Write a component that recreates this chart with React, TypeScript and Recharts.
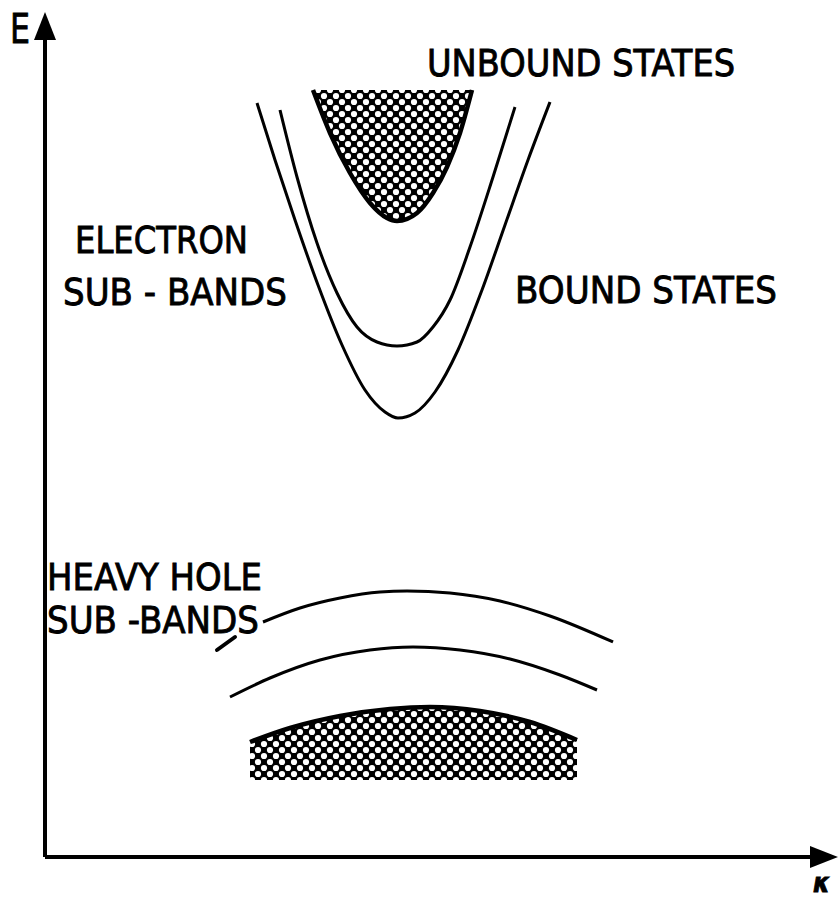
import { Area, ComposedChart, Line, ReferenceDot, ReferenceLine, XAxis, YAxis } from "recharts";

// E(k); k and E in arbitrary plot units
const electronSubBand1 = [
  { k: 212, E: 754 }, { k: 230, E: 697 }, { k: 250, E: 637 }, { k: 273, E: 572 },
  { k: 297, E: 512 }, { k: 320, E: 467 }, { k: 340, E: 445 }, { k: 353, E: 439 },
  { k: 370, E: 444 }, { k: 390, E: 465 }, { k: 413, E: 507 }, { k: 437, E: 567 },
  { k: 460, E: 632 }, { k: 483, E: 697 }, { k: 505, E: 755 },
];

const electronSubBand2 = [
  { k: 235, E: 747 }, { k: 252, E: 680 }, { k: 272, E: 614 }, { k: 292, E: 564 },
  { k: 312, E: 530 }, { k: 332, E: 515 }, { k: 352, E: 511 }, { k: 372, E: 515 },
  { k: 388, E: 530 }, { k: 405, E: 557 }, { k: 425, E: 610 }, { k: 448, E: 680 },
  { k: 470, E: 750 },
];

// continuum edge of the unbound states, filled up to the top of the drawing
const unboundTop = 767;
const unboundEdge = [
  { k: 268, E: 767 }, { k: 285, E: 724 }, { k: 305, E: 684 }, { k: 325, E: 654 },
  { k: 342, E: 639 }, { k: 352, E: 636 }, { k: 372, E: 644 }, { k: 388, E: 664 },
  { k: 402, E: 690 }, { k: 415, E: 724 }, { k: 427, E: 767 },
];

const holeSubBand1 = [
  { k: 218, E: 235 }, { k: 255, E: 249 }, { k: 295, E: 259 }, { k: 335, E: 265 },
  { k: 362, E: 266 }, { k: 405, E: 264 }, { k: 455, E: 256 }, { k: 505, E: 241 },
  { k: 568, E: 215 },
];

const holeSubBand2 = [
  { k: 185, E: 160 }, { k: 225, E: 179 }, { k: 275, E: 197 }, { k: 325, E: 207 },
  { k: 368, E: 210 }, { k: 415, E: 207 }, { k: 465, E: 198 }, { k: 515, E: 182 },
  { k: 552, E: 167 },
];

// valence continuum, hatched down to a flat floor
const holeFloor = 77;
const holeContinuumEdge = [
  { k: 205, E: 115 }, { k: 245, E: 129 }, { k: 295, E: 141 }, { k: 345, E: 148 },
  { k: 385, E: 150 }, { k: 435, E: 146 }, { k: 485, E: 135 }, { k: 532, E: 117 },
];

const unboundFill = unboundEdge.map((p) => ({ k: p.k, E: [p.E, unboundTop] }));
const holeFill = holeContinuumEdge.map((p) => ({ k: p.k, E: [holeFloor, p.E] }));

const FONT = "'DejaVu Sans', 'Liberation Sans', sans-serif";

const caption =
  (text: string, width: number, size = 37, extra: Record<string, string | number> = {}) =>
  (p: any) => (
    <text
      x={p.cx}
      y={p.cy}
      fontSize={size}
      fontFamily={FONT}
      textLength={width}
      lengthAdjust='spacingAndGlyphs'
      fill='#000'
      stroke='#000'
      strokeWidth={0.9}
      {...extra}
    >
      {text}
    </text>
  );

const curve = { stroke: "#000", strokeWidth: 3, dot: false, isAnimationActive: false, type: "monotone" as const };

export default function App() {
  return (
    <div style={{ position: "absolute", left: 0, top: 0, width: 838, height: 898, background: "#fff" }}>
      <ComposedChart width={838} height={898} margin={{ top: 40, right: 28, bottom: 0, left: 0 }}>
        <defs>
          <pattern id='xhatch' width='12' height='12' patternUnits='userSpaceOnUse'>
            <rect width='12' height='12' fill='#000' />
            <circle cx='0' cy='0' r='3.1' fill='#fff' />
            <circle cx='12' cy='0' r='3.1' fill='#fff' />
            <circle cx='0' cy='12' r='3.1' fill='#fff' />
            <circle cx='12' cy='12' r='3.1' fill='#fff' />
            <circle cx='6' cy='6' r='3.1' fill='#fff' />
          </pattern>
          <marker
            id='arrowHead'
            viewBox='0 0 28 22'
            refX='0'
            refY='11'
            markerWidth='28'
            markerHeight='22'
            markerUnits='userSpaceOnUse'
            orient='auto-start-reverse'
          >
            <path d='M0,0 L28,11 L0,22 Z' fill='#000' />
          </marker>
        </defs>
        <XAxis
          type='number'
          dataKey='k'
          domain={[0, 765]}
          allowDataOverflow
          tick={false}
          tickLine={false}
          height={41}
          axisLine={{ stroke: "#000", strokeWidth: 4, markerEnd: "url(#arrowHead)" }}
        />
        <YAxis
          type='number'
          domain={[0, 817]}
          allowDataOverflow
          tick={false}
          tickLine={false}
          width={45}
          axisLine={{ stroke: "#000", strokeWidth: 4, markerStart: "url(#arrowHead)" }}
        />

        <Area data={unboundFill} dataKey='E' type='monotone' fill='url(#xhatch)' fillOpacity={1} stroke='none' isAnimationActive={false} />
        <Area data={holeFill} dataKey='E' type='monotone' fill='url(#xhatch)' fillOpacity={1} stroke='none' isAnimationActive={false} />

        <Line data={unboundEdge} dataKey='E' {...curve} strokeWidth={4.5} />
        <Line data={electronSubBand1} dataKey='E' {...curve} />
        <Line data={electronSubBand2} dataKey='E' {...curve} />
        <Line data={holeSubBand1} dataKey='E' {...curve} />
        <Line data={holeSubBand2} dataKey='E' {...curve} />
        <Line data={holeContinuumEdge} dataKey='E' {...curve} strokeWidth={4.5} />

        <ReferenceLine
          segment={[{ x: 172, y: 207 }, { x: 190, y: 220 }]}
          stroke='#000'
          strokeWidth={4}
          strokeLinecap='round'
          ifOverflow='visible'
        />

        <ReferenceDot x={-35} y={814} r={1} ifOverflow='visible' shape={caption("E", 20, 41)} />
        <ReferenceDot x={382} y={781} r={1} ifOverflow='visible' shape={caption("UNBOUND STATES", 308)} />
        <ReferenceDot x={30} y={604} r={1} ifOverflow='visible' shape={caption("ELECTRON", 173)} />
        <ReferenceDot x={18} y={552} r={1} ifOverflow='visible' shape={caption("SUB - BANDS", 224)} />
        <ReferenceDot x={470} y={554} r={1} ifOverflow='visible' shape={caption("BOUND STATES", 262)} />
        <ReferenceDot x={2} y={267} r={1} ifOverflow='visible' shape={caption("HEAVY HOLE", 215)} />
        <ReferenceDot x={2} y={224} r={1} ifOverflow='visible' shape={caption("SUB -BANDS", 212)} />
        <ReferenceDot
          x={768}
          y={-35}
          r={1}
          ifOverflow='visible'
          shape={caption("κ", 17, 27, { fontWeight: "bold", fontStyle: "italic" })}
        />
      </ComposedChart>
    </div>
  );
}
